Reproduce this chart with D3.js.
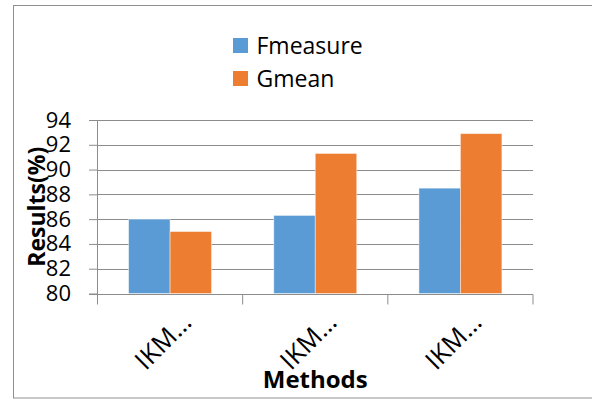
<!DOCTYPE html>
<html>
<head>
<meta charset="utf-8">
<script src="https://cdn.jsdelivr.net/npm/d3@7"></script>
<style>
  html, body { margin: 0; padding: 0; background: #fff; }
  svg { display: block; font-family: "Open Sans", "Noto Sans", sans-serif; }
</style>
</head>
<body>
<svg id="chart" width="592" height="401"></svg>
<script>
// Chart data
const categories = ["IKM-A", "IKM-B", "IKM-C"];
const categoryLabels = ["IKM…", "IKM…", "IKM…"];
const seriesNames = ["Fmeasure", "Gmean"];
const fmeasure = [86.0, 86.3, 88.5];
const gmean = [85.0, 91.3, 92.9];
const yTicks = [80, 82, 84, 86, 88, 90, 92, 94];

const seriesValues = [fmeasure, gmean];
const colors = ["#5B9BD5", "#ED7D31"];

const svg = d3.select("#chart");

// Outer frame of the chart area
svg.append("rect")
  .attr("x", 13.5).attr("y", 5.5)
  .attr("width", 600).attr("height", 392.5)
  .attr("fill", "none")
  .attr("stroke", "#8f8f8f")
  .attr("stroke-width", 1);

const plot = { left: 97.5, right: 533, top: 120, bottom: 293.5 };

const y = d3.scaleLinear().domain([80, 94]).range([plot.bottom, plot.top]);
const x0 = d3.scaleBand().domain(categories).range([plot.left, plot.right]).padding(0);
const bw = x0.bandwidth();
const barW = bw / 3.5;
const x1 = d3.scaleBand().domain(seriesNames)
  .range([(bw - 2 * barW) / 2, (bw + 2 * barW) / 2]).padding(0);

const gridColor = "#8c8c8c";

// Horizontal gridlines
svg.append("g")
  .selectAll("line")
  .data(yTicks.filter(t => t !== 80))
  .join("line")
  .attr("x1", plot.left).attr("x2", plot.right)
  .attr("y1", d => Math.round(y(d)) + 0.5).attr("y2", d => Math.round(y(d)) + 0.5)
  .attr("stroke", gridColor).attr("stroke-width", 1);

// Y axis
const yAxis = d3.axisLeft(y).tickValues(yTicks).tickSize(8.5).tickPadding(18).tickSizeOuter(0);
const gy = svg.append("g")
  .attr("transform", `translate(${plot.left},0)`)
  .call(yAxis);
gy.select(".domain").remove();
gy.selectAll(".tick line").attr("stroke", gridColor);
gy.selectAll(".tick text")
  .attr("font-size", 22)
  .attr("font-family", "Open Sans, sans-serif")
  .attr("fill", "#000");
gy.append("line")
  .attr("x1", 0).attr("x2", 0)
  .attr("y1", plot.top).attr("y2", plot.bottom + 10.5)
  .attr("stroke", gridColor);

// Bars
const groups = svg.append("g")
  .selectAll("g")
  .data(categories)
  .join("g")
  .attr("transform", d => `translate(${x0(d)},0)`);

groups.selectAll("rect")
  .data((d, i) => seriesNames.map((s, j) => ({ s, v: seriesValues[j][i], j })))
  .join("rect")
  .attr("x", d => x1(d.s))
  .attr("width", x1.bandwidth())
  .attr("y", d => y(d.v))
  .attr("height", d => y(80) - y(d.v))
  .attr("fill", d => colors[d.j])
  .attr("stroke", "#fff")
  .attr("stroke-opacity", 0.55)
  .attr("stroke-width", 0.8);

// X axis
const xAxis = d3.axisBottom(x0).tickSize(0).tickFormat(() => "");
const gx = svg.append("g")
  .attr("transform", `translate(0,${Math.round(plot.bottom) + 0.5})`)
  .call(xAxis);
gx.select(".domain").remove();
gx.append("line")
  .attr("x1", plot.left - 8.5).attr("x2", plot.right)
  .attr("y1", 0).attr("y2", 0)
  .attr("stroke", gridColor);
// Category boundary ticks
gx.selectAll(".boundary")
  .data(categories.concat(["end"]))
  .join("line")
  .attr("class", "boundary")
  .attr("x1", (d, i) => (i < categories.length ? x0(d) : plot.right))
  .attr("x2", (d, i) => (i < categories.length ? x0(d) : plot.right))
  .attr("y1", 0).attr("y2", 10)
  .attr("stroke", gridColor);

// Rotated category labels
svg.append("g")
  .selectAll("text")
  .data(categories)
  .join("text")
  .attr("transform", (d) => `translate(${x0(d) + bw / 2 + 23},324) rotate(-45)`)
  .attr("text-anchor", "end")
  .attr("font-size", 26)
  .attr("fill", "#000")
  .text((d, i) => categoryLabels[i]);

// Axis titles
svg.append("text")
  .attr("x", (plot.left + plot.right) / 2)
  .attr("y", 387.5)
  .attr("text-anchor", "middle")
  .attr("font-size", 24)
  .attr("font-weight", "bold")
  .attr("fill", "#000")
  .text("Methods");

svg.append("text")
  .attr("transform", `translate(45,${(plot.top + plot.bottom) / 2}) rotate(-90)`)
  .attr("text-anchor", "middle")
  .attr("font-size", 23)
  .attr("font-weight", "bold")
  .attr("fill", "#000")
  .text("Results(%)");

// Legend
const legend = svg.append("g")
  .selectAll("g")
  .data(seriesNames)
  .join("g")
  .attr("transform", (d, i) => `translate(233,${38 + i * 33})`);
legend.append("rect")
  .attr("width", 15).attr("height", 15)
  .attr("fill", (d, i) => colors[i]);
legend.append("text")
  .attr("x", 23.5).attr("y", 16.3)
  .attr("font-size", 23)
  .attr("fill", "#000")
  .text(d => d);
</script>
</body>
</html>
